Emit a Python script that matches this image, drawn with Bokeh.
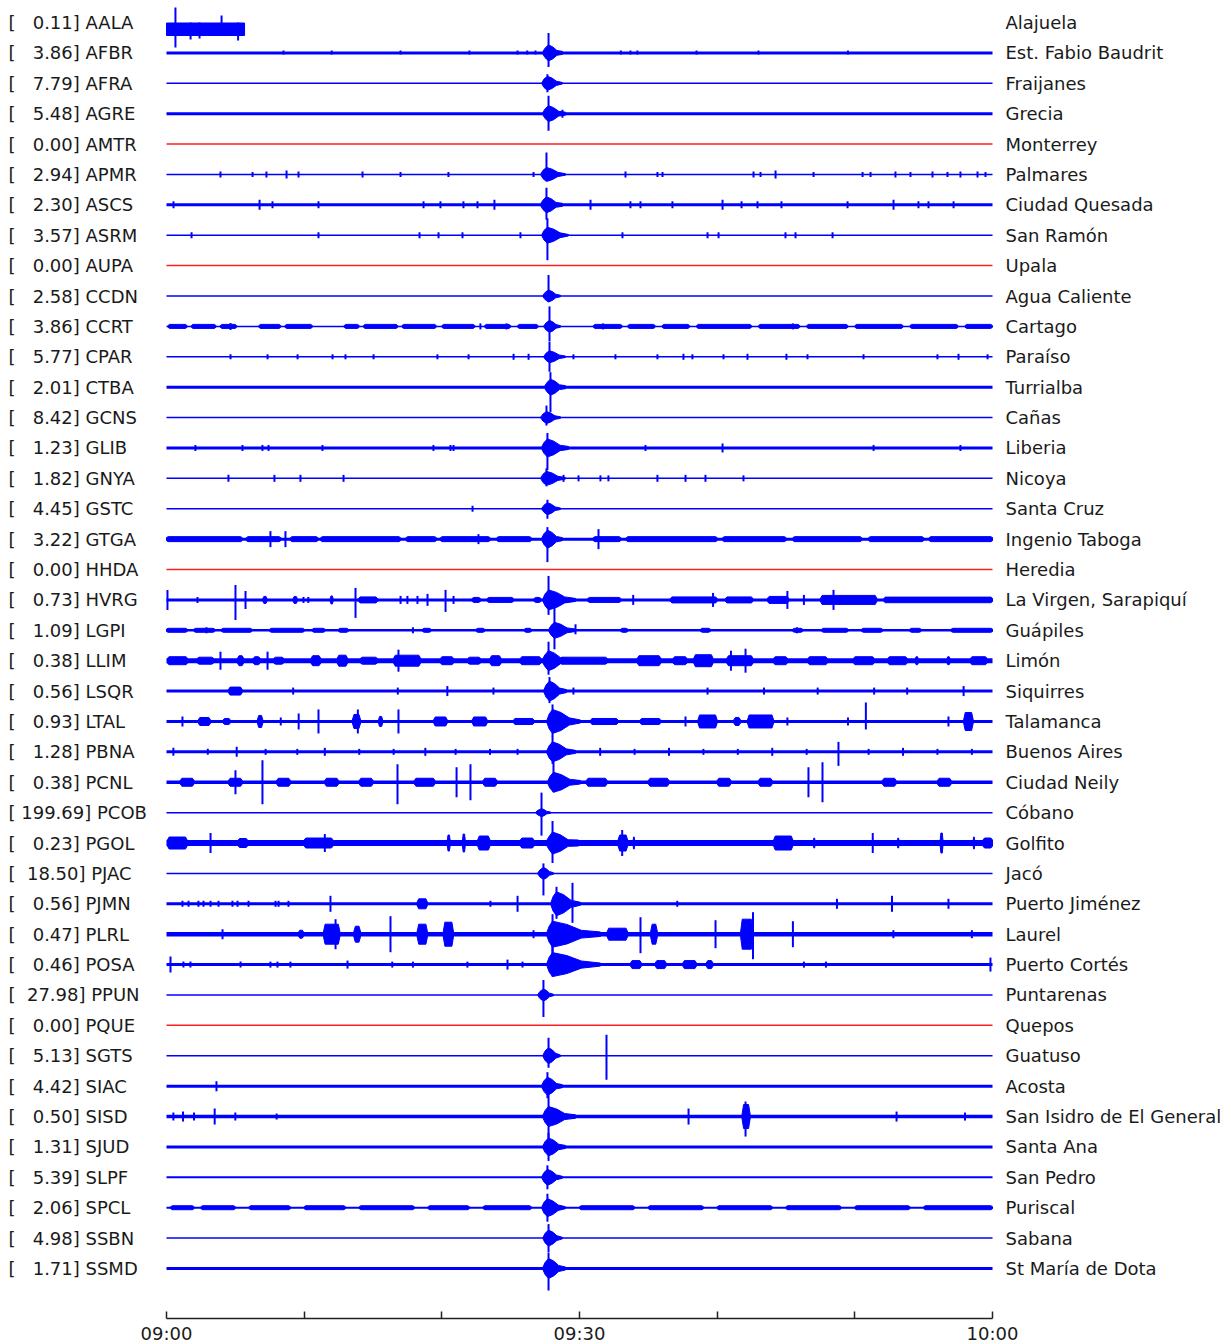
from bokeh.plotting import figure
from bokeh.models import Range1d, FixedTicker, ColumnDataSource
from bokeh.embed import file_html
from bokeh.resources import INLINE
from bokeh.core.properties import value

# ---------------- data ----------------
codes = ["AALA", "AFBR", "AFRA", "AGRE", "AMTR", "APMR", "ASCS", "ASRM", "AUPA", "CCDN",
         "CCRT", "CPAR", "CTBA", "GCNS", "GLIB", "GNYA", "GSTC", "GTGA", "HHDA", "HVRG",
         "LGPI", "LLIM", "LSQR", "LTAL", "PBNA", "PCNL", "PCOB", "PGOL", "PJAC", "PJMN",
         "PLRL", "POSA", "PPUN", "PQUE", "SGTS", "SIAC", "SISD", "SJUD", "SLPF", "SPCL",
         "SSBN", "SSMD"]
scales = [0.11, 3.86, 7.79, 5.48, 0.00, 2.94, 2.30, 3.57, 0.00, 2.58,
          3.86, 5.77, 2.01, 8.42, 1.23, 1.82, 4.45, 3.22, 0.00, 0.73,
          1.09, 0.38, 0.56, 0.93, 1.28, 0.38, 199.69, 0.23, 18.50, 0.56,
          0.47, 0.46, 27.98, 0.00, 5.13, 4.42, 0.50, 1.31, 5.39, 2.06,
          4.98, 1.71]
names = ["Alajuela", "Est. Fabio Baudrit", "Fraijanes", "Grecia", "Monterrey", "Palmares",
         "Ciudad Quesada", "San Ramón", "Upala", "Agua Caliente", "Cartago", "Paraíso",
         "Turrialba", "Cañas", "Liberia", "Nicoya", "Santa Cruz", "Ingenio Taboga", "Heredia",
         "La Virgen, Sarapiquí", "Guápiles", "Limón", "Siquirres", "Talamanca", "Buenos Aires",
         "Ciudad Neily", "Cóbano", "Golfito", "Jacó", "Puerto Jiménez", "Laurel",
         "Puerto Cortés", "Puntarenas", "Quepos", "Guatuso", "Acosta",
         "San Isidro de El General", "Santa Ana", "San Pedro", "Puriscal", "Sabana",
         "St María de Dota"]

# background noise level of each trace (px-equivalent amplitude)
noise = [0, 3, 1.5, 3, 1.5, 1.5, 3, 1.5, 1.5, 1.5,
         1.5, 1.5, 3, 1.5, 3, 1.5, 1.5, 3, 1.5, 3,
         2.5, 5, 3, 3, 3, 3.5, 1.5, 6, 1.5, 3,
         4.5, 3, 1.5, 1.5, 1.5, 3, 3.5, 3, 2, 2,
         1.5, 3]

# data span of each trace in minutes after 09:00
trace_span = {"AALA": (0.0, 5.67)}

# main event: arrival (min), peak up, peak down, body amplitude, end of coda (min)
ev_time = [None, 27.75, 27.67, 27.75, None, 27.60, 27.60, 27.67, None, 27.75,
           27.82, 27.82, 27.89, 27.60, 27.67, 27.60, 27.67, 27.67, None, 27.75,
           28.18, 27.75, 27.82, 28.04, 28.04, 28.11, 27.24, 28.04, 27.38, 28.33,
           28.04, 28.04, 27.38, None, 27.75, 27.67, 27.75, 27.75, 27.67, 27.67,
           27.75, 27.75]
ev_up = [0, 20, 9, 18, 0, 22, 17, 17, 0, 21,
         20, 15, 15, 12, 15, 10, 9, 12, 0, 24,
         23, 19, 14, 17, 16, 22, 20, 22, 10, 17,
         20, 20, 15, 0, 18, 14, 26, 14, 12, 14,
         14, 16]
ev_down = [0, 14, 9, 17, 0, 6, 15, 25, 0, 6,
           15, 15, 25, 8, 22, 8, 10, 23, 0, 15,
           19, 14, 12, 15, 12, 10, 23, 20, 22, 15,
           20, 12, 22, 0, 12, 12, 22, 14, 12, 14,
           14, 22]
ev_body = [0, 8, 7, 8, 0, 7, 8, 8, 0, 6,
           6, 6, 8, 6, 9, 7, 6, 9, 0, 10,
           8, 10, 10, 12, 10, 10, 4, 11, 6, 12,
           13, 12, 6, 0, 8, 9, 10, 9, 8, 9,
           8, 10]
ev_end = [None, 28.76, 28.76, 28.98, None, 28.98, 28.76, 29.20, None, 28.62,
          28.62, 28.98, 28.98, 28.62, 29.20, 28.98, 28.62, 28.76, None, 29.71,
          29.71, 29.20, 29.05, 30.07, 29.71, 30.07, 27.89, 29.93, 28.11, 30.07,
          31.52, 31.52, 28.11, None, 28.62, 28.76, 29.71, 28.98, 28.76, 28.98,
          28.76, 28.98]

# isolated spikes: (minute, up, down)
spikes = {
    "AALA": [(0.65, 15, 25), (1.75, 0, 17), (2.4, 0, 16), (4.0, 7, 13), (5.2, 0, 18)],
    "AFBR": [(25.5, 2.5, 1.5), (26.2, 2.5, 1.5), (26.8, 2.5, 1.5), (33.0, 2.5, 1.5),
             (33.7, 2.5, 1.5), (34.2, 2.5, 1.5), (8.5, 2.5, 1.5), (12.0, 2.5, 1.5),
             (17.0, 2.5, 1.5), (22.0, 2.5, 1.5), (38.5, 2.5, 1.5), (43.0, 2.5, 1.5),
             (49.5, 2.5, 1.5)],
    "AGRE": [(28.76, 4, 4)],
    "APMR": [(3.92, 3, 3), (6.25, 2.5, 2.5), (7.26, 3, 3), (8.72, 4, 4), (9.59, 3, 3),
             (14.24, 3, 3), (17.0, 2.5, 2.5), (20.48, 2.5, 2.5), (26.66, 2.5, 2.5),
             (33.34, 3, 3), (35.66, 2.5, 2.5), (36.03, 2.5, 2.5), (42.64, 3, 3),
             (43.15, 2.5, 2.5), (44.24, 4, 4), (47.0, 2.5, 2.5), (50.56, 2.5, 2.5),
             (51.14, 2.5, 2.5), (52.95, 3, 3), (54.04, 2.5, 2.5), (55.64, 3, 3),
             (56.73, 2.5, 2.5), (57.67, 3, 3), (58.91, 3, 3), (59.49, 2.5, 2.5)],
    "ASCS": [(0.51, 3.5, 3.5), (6.76, 5, 5), (7.7, 3.5, 3.5), (11.04, 3.5, 3.5),
             (18.67, 3.5, 3.5), (19.9, 3.5, 3.5), (21.57, 3.5, 3.5), (22.59, 3.5, 3.5),
             (23.82, 5, 5), (30.8, 5, 5), (33.7, 3.5, 3.5), (34.43, 3.5, 3.5),
             (36.75, 3.5, 3.5), (40.39, 5, 5), (41.77, 3.5, 3.5), (42.93, 3.5, 3.5),
             (44.67, 3.5, 3.5), (49.47, 3.5, 3.5), (52.81, 5, 5), (54.62, 3.5, 3.5),
             (55.35, 3.5, 3.5), (57.17, 3.5, 3.5)],
    "ASRM": [(1.82, 3, 3), (11.04, 3, 3), (18.38, 3, 3), (19.76, 3, 3), (21.5, 3, 3),
             (25.71, 3, 3), (33.12, 3, 3), (39.3, 3, 3), (40.1, 3, 3), (44.96, 3, 3),
             (45.69, 3, 3), (48.38, 3, 3)],
    "CCRT": [(4.65, 3.5, 3.5), (22.8, 3, 3), (24.7, 3, 3), (31.7, 3, 3), (45.5, 3, 3)],
    "CPAR": [(4.65, 2.5, 2.5), (7.34, 2.5, 2.5), (9.52, 2.5, 2.5), (12.06, 2.5, 2.5),
             (13.0, 2.5, 2.5), (15.04, 2.5, 2.5), (19.68, 2.5, 2.5), (21.94, 2.5, 2.5),
             (25.21, 3, 3), (26.3, 3, 3), (29.56, 2.5, 2.5), (32.61, 2.5, 2.5),
             (35.66, 2.5, 2.5), (37.55, 3, 3), (38.2, 2.5, 2.5), (40.46, 2.5, 2.5),
             (42.2, 3, 3), (45.03, 3, 3), (46.56, 2.5, 2.5), (50.63, 2.5, 2.5),
             (56.0, 2.5, 2.5), (57.53, 3, 3), (59.64, 2.5, 2.5)],
    "GLIB": [(2.1, 3, 3), (5.52, 3, 3), (6.97, 3, 3), (7.41, 3, 3), (11.33, 3, 3),
             (19.39, 3, 3), (20.63, 3, 3), (20.85, 3, 3), (34.79, 3, 3), (40.39, 4.5, 4.5),
             (51.36, 3, 3), (57.67, 3, 3)],
    "GNYA": [(4.5, 3.5, 3.5), (7.84, 3.5, 3.5), (9.73, 3.5, 3.5), (12.86, 3.5, 3.5),
             (28.84, 3.5, 3.5), (29.93, 3, 3), (31.52, 3, 3), (32.1, 3, 3),
             (35.66, 3.5, 3.5), (37.7, 3.5, 3.5), (39.15, 3.5, 3.5), (41.91, 3, 3)],
    "GSTC": [(22.23, 3, 3)],
    "GTGA": [(7.55, 8, 8), (8.64, 8, 8), (22.66, 5, 5), (31.38, 10, 10)],
    "HVRG": [(0.07, 10, 10), (2.25, 3, 3), (5.01, 15, 20), (5.74, 9, 9), (9.95, 3, 3),
             (10.3, 3, 3), (13.73, 12, 18), (17.0, 4, 4), (17.5, 4, 4), (18.23, 4, 4),
             (18.96, 6, 6), (20.27, 10, 12), (20.85, 4, 4), (33.9, 5, 5), (39.7, 7, 7),
             (45.1, 9, 9), (46.3, 5, 5), (48.45, 10, 10)],
    "LGPI": [(2.9, 3, 3), (17.9, 3, 3), (29.71, 6, 4), (45.8, 3, 3)],
    "LLIM": [(3.92, 9, 9), (7.34, 9, 9), (16.85, 11, 11), (42.06, 12, 12), (41.0, 10, 10)],
    "LSQR": [(9.2, 3.5, 3.5), (16.8, 3.5, 3.5), (20.4, 5, 5), (23.75, 3.5, 3.5),
             (29.56, 3.5, 3.5), (39.3, 3.5, 3.5), (43.4, 3.5, 3.5), (47.3, 3.5, 3.5),
             (51.4, 3.5, 3.5), (53.8, 3.5, 3.5), (57.9, 5, 5)],
    "LTAL": [(1.16, 5, 5), (8.3, 4, 4), (9.6, 8, 8), (11.04, 12, 12), (13.9, 12, 12),
             (16.85, 12, 12), (37.7, 5, 5), (45.1, 4, 4), (49.5, 4, 4), (50.8, 19, 8),
             (56.8, 5, 5)],
    "PBNA": [(0.5, 4, 4), (3.0, 3, 3), (5.1, 5, 5), (7.2, 3, 3), (9.5, 3, 3), (11.5, 4, 4),
             (14.0, 3, 3), (16.5, 3, 3), (18.8, 4, 4), (21.0, 3, 3), (23.5, 3, 3),
             (25.5, 3, 3), (31.5, 4, 4), (34.0, 3, 3), (36.5, 4, 4), (39.0, 3, 3),
             (41.5, 3, 3), (44.0, 4, 4), (46.5, 3, 3), (48.81, 10, 14), (51.0, 3, 3),
             (53.5, 4, 4), (56.0, 3, 3), (58.5, 3, 3)],
    "PCNL": [(5.01, 12, 12), (6.97, 22, 22), (16.78, 18, 22), (21.07, 15, 15),
             (22.08, 18, 18), (46.63, 15, 15), (47.65, 20, 20)],
    "PGOL": [(3.2, 10, 10), (11.5, 9, 9), (51.3, 10, 10), (33.1, 13, 13)],
    "PJMN": [(1.16, 3, 3), (1.6, 3, 3), (2.32, 3, 3), (2.69, 3, 3), (3.2, 3, 3),
             (3.78, 3, 3), (4.79, 3, 3), (5.16, 3, 3), (5.96, 3, 3), (7.92, 3, 3),
             (8.14, 3, 3), (8.86, 3, 3), (11.91, 8, 8), (23.53, 3, 3), (25.5, 8, 8),
             (29.49, 21, 19), (37.1, 3, 3), (48.7, 5, 5), (52.7, 8, 8), (56.8, 5, 5)],
    "PLRL": [(4.07, 5, 5), (12.28, 15, 15), (16.27, 18, 18), (26.66, 4, 4),
             (34.43, 17, 19), (39.88, 14, 14), (42.6, 22, 25), (45.5, 13, 13),
             (52.8, 4, 4), (58.5, 4, 4)],
    "POSA": [(0.29, 8, 8), (1.23, 3, 3), (1.74, 3, 3), (5.38, 3, 3), (7.55, 3, 3),
             (8.06, 3, 3), (9.0, 3, 3), (13.15, 4, 4), (16.4, 3, 3), (17.9, 3, 3),
             (21.86, 3, 3), (24.77, 5, 5), (25.86, 3, 3), (46.3, 3, 3), (47.9, 3, 3),
             (59.85, 7, 7)],
    "SGTS": [(31.96, 21, 24)],
    "SIAC": [(3.63, 5, 5)],
    "SISD": [(0.5, 4, 4), (1.2, 5, 5), (2.0, 4, 4), (3.5, 8, 8), (5.0, 4, 4), (8.0, 3, 3),
             (37.92, 8, 8), (42.06, 15, 20), (53.03, 5, 5), (58.0, 4, 4)],
}

# bursts of noise: (start minute, end minute, amplitude)
bursts = {
    "CCRT": [(0.1, 1.5, 2), (1.8, 3.6, 2), (3.9, 5.1, 2), (6.7, 8.3, 2), (8.6, 10.6, 2),
             (12.9, 14.0, 2), (14.3, 16.8, 2), (17.1, 19.6, 2), (20.0, 22.4, 2),
             (23.1, 25.0, 2), (25.5, 27.0, 2), (31.0, 33.1, 2), (33.5, 35.5, 2),
             (36.0, 38.0, 2), (38.5, 42.5, 2), (43.0, 46.0, 2), (46.5, 49.5, 2),
             (50.0, 53.5, 2), (54.0, 57.5, 2), (58.0, 60.0, 2)],
    "GTGA": [(0.0, 5.5, 2.5), (5.8, 8.3, 2.5), (9.0, 11.0, 2.5), (11.2, 17.0, 2.5),
             (17.4, 19.6, 2.5), (19.9, 23.5, 2.5), (24.0, 26.5, 2.5), (31.0, 33.0, 2.5),
             (33.4, 40.0, 2.5), (40.4, 45.0, 2.5), (45.5, 50.5, 2.5), (51.0, 55.0, 2.5),
             (55.4, 60.0, 2.5)],
    "HVRG": [(7.0, 7.3, 3.5), (9.2, 9.5, 3.5), (11.9, 12.1, 4), (13.95, 15.33, 3),
             (22.2, 22.8, 2.5), (23.3, 25.2, 2.5), (26.7, 27.2, 2.5), (30.6, 33.0, 2.5),
             (36.6, 40.0, 3), (40.6, 42.6, 3), (43.65, 45.2, 3.5), (47.5, 51.6, 4.5),
             (52.1, 60.0, 2.8)],
    "LGPI": [(0.0, 1.5, 2), (2.0, 3.5, 2), (4.0, 6.2, 2), (7.5, 10.0, 2), (10.6, 11.5, 2),
             (12.5, 13.2, 2), (18.6, 19.2, 2), (22.5, 23.1, 2), (26.0, 26.5, 2),
             (33.0, 33.5, 2), (38.8, 39.5, 2), (45.5, 46.2, 2), (47.6, 49.5, 2),
             (50.5, 52.0, 2), (54.0, 54.8, 2), (57.0, 60.0, 2)],
    "LLIM": [(0.07, 1.53, 4), (2.25, 3.41, 3.5), (5.16, 5.6, 5), (6.3, 6.8, 4), (7.8, 8.5, 3.5),
             (10.5, 11.2, 5), (12.4, 13.15, 5.5), (14.1, 15.3, 3.5), (16.5, 18.45, 5.5),
             (19.9, 20.85, 4), (21.9, 22.8, 3.5), (23.5, 24.3, 5), (25.7, 27.2, 4),
             (28.6, 32.0, 3.5), (34.2, 35.9, 5), (36.8, 37.8, 4), (38.3, 39.7, 6),
             (40.7, 42.6, 5), (44.1, 45.1, 4), (46.6, 48.0, 4), (49.9, 51.4, 4),
             (52.4, 53.8, 4), (54.4, 54.6, 4), (56.7, 56.9, 4), (58.4, 59.6, 4)],
    "LSQR": [(4.5, 5.5, 4)],
    "LTAL": [(2.3, 3.2, 4), (4.1, 4.65, 3), (6.6, 7.0, 6), (13.5, 14.1, 7), (15.4, 15.7, 5),
             (19.4, 20.4, 4.5), (22.2, 23.3, 4.5), (25.2, 26.7, 3), (30.8, 32.8, 3),
             (34.4, 35.9, 3), (38.6, 40.0, 6.5), (41.2, 41.7, 4), (42.2, 44.1, 6.5),
             (57.9, 58.6, 9)],
    "PCNL": [(1.0, 2.0, 4), (4.5, 5.5, 4), (8.0, 9.0, 4), (11.5, 12.5, 4), (14.0, 15.0, 4),
             (18.0, 19.5, 4), (23.0, 24.0, 4), (30.5, 32.0, 4), (35.0, 36.5, 4),
             (40.0, 41.0, 4), (43.0, 44.0, 4), (52.0, 53.0, 4), (56.0, 57.0, 4)],
    "PGOL": [(0.07, 1.5, 6), (5.2, 5.9, 4.5), (10.0, 12.1, 5), (20.4, 20.6, 8), (21.5, 21.7, 9),
             (22.6, 23.5, 7), (25.7, 26.7, 5), (32.8, 33.5, 8), (33.9, 34.0, 6),
             (44.1, 45.5, 7), (47.0, 47.1, 5), (53.1, 53.2, 5), (56.2, 56.4, 10),
             (58.6, 58.7, 6), (59.3, 60.0, 5)],
    "PJMN": [(18.2, 18.96, 5)],
    "PLRL": [(9.6, 9.95, 4), (11.4, 12.6, 10), (13.6, 14.1, 8), (18.2, 18.96, 10),
             (20.1, 20.85, 12), (32.0, 33.5, 6), (35.16, 35.66, 10), (41.7, 42.6, 15)],
    "POSA": [(33.7, 34.5, 4), (35.5, 36.3, 4), (37.5, 38.5, 4), (39.2, 39.7, 4)],
    "SISD": [(41.8, 42.4, 12)],
    "SPCL": [(0.3, 2.0, 2), (2.5, 5.0, 2), (6.0, 9.0, 2), (10.0, 13.0, 2), (14.0, 18.0, 2),
             (19.0, 22.0, 2), (23.0, 26.5, 2), (30.0, 34.0, 2), (35.0, 39.0, 2),
             (40.0, 44.0, 2), (45.0, 49.0, 2), (50.0, 54.0, 2), (55.0, 60.0, 2)],
}
# block of strong noise on the short AALA record: (start, end, top, bottom) px about the row
aala_block = (0.0, 5.67, 0.5, 13)

tick_minutes = [0, 30, 60]
tick_labels = ["09:00", "09:30", "10:00"]
minor_minutes = [10, 20, 40, 50]

# ---------------- layout / style ----------------
ROW = 30.39            # px between traces
PX_PER_MIN = 13.767
FRAME_W = 1227
X0 = -166 / PX_PER_MIN
X1 = X0 + FRAME_W / PX_PER_MIN
FRAME_H = 1318
Y_TOP = 22
Y_BOT = Y_TOP - FRAME_H
BLUE = "#0000ff"
RED = "#ff2020"
FONT = "DejaVu Sans"
FS = "18px"
LEFT_X = 8 / PX_PER_MIN + X0
LABEL_X = (1005 - 166) / PX_PER_MIN

p = figure(frame_width=FRAME_W, frame_height=FRAME_H,
           x_range=Range1d(X0, X1), y_range=Range1d(Y_BOT, Y_TOP),
           output_backend="svg", toolbar_location=None, y_axis_location=None,
           min_border=0, outline_line_color=None)
p.grid.visible = False

n = len(codes)
ys = [-ROW * i for i in range(n)]
colors = [RED if v == 0 else BLUE for v in scales]

# baselines
bx0, bx1, by, bw, bc = [], [], [], [], []
for i, c in enumerate(codes):
    if c == "AALA":
        continue
    s0, s1 = trace_span.get(c, (0.0, 60.0))
    bx0.append(s0); bx1.append(s1); by.append(ys[i])
    bw.append(max(noise[i], 1.2)); bc.append(colors[i])
p.segment(x0="x0", y0="y", x1="x1", y1="y", line_width="w", line_color="c",
          source=ColumnDataSource(dict(x0=bx0, x1=bx1, y=by, w=bw, c=bc)))

# AALA block
i_a = codes.index("AALA")
p.quad(left=[aala_block[0]], right=[aala_block[1]], top=[ys[i_a] - aala_block[2]],
       bottom=[ys[i_a] - aala_block[3]], fill_color=BLUE, line_color=BLUE, line_width=1)

# bursts as tapered patches
bxs, bys = [], []
for c, lst in bursts.items():
    i = codes.index(c)
    y = ys[i]
    h = max(noise[i], 1.2) / 2
    for (t0, t1, a) in lst:
        w = t1 - t0
        e = min(0.12, w * 0.25)
        tx = [t0, t0 + e, t1 - e, t1]
        ty = [h, a, a, h]
        bxs.append(tx + tx[::-1])
        bys.append([y + v for v in ty] + [y - v for v in ty[::-1]])
p.patches(xs=bxs, ys=bys, fill_color=BLUE, line_color=BLUE, line_width=1)

# main event envelopes
pxs, pys = [], []
for i in range(n):
    t0 = ev_time[i]
    if t0 is None:
        continue
    te = ev_end[i]
    b = ev_body[i]
    h = max(noise[i], 1.2) / 2
    d = te - t0
    y = ys[i]
    top_x = [t0 - 0.4, t0 - 0.25, t0, t0 + 0.3 * d, t0 + 0.6 * d, te]
    top_y = [h, 0.6 * b, b, 0.75 * b, 0.3 * b, h]
    xs = top_x + top_x[::-1]
    yy = [y + v for v in top_y] + [y - v for v in top_y[::-1]]
    pxs.append(xs); pys.append(yy)
p.patches(xs=pxs, ys=pys, fill_color=BLUE, line_color=BLUE, line_width=1)

# spikes (main arrivals and isolated ones)
sx, sy0, sy1 = [], [], []
for i in range(n):
    if ev_time[i] is not None:
        sx.append(ev_time[i]); sy0.append(ys[i] + ev_up[i]); sy1.append(ys[i] - ev_down[i])
for c, lst in spikes.items():
    i = codes.index(c)
    for (t, up, dn) in lst:
        sx.append(t); sy0.append(ys[i] + up); sy1.append(ys[i] - dn)
p.segment(x0=sx, y0=sy0, x1=sx, y1=sy1, line_color=BLUE, line_width=2)

# labels
left_text = [("[%7.2f] %s" % (v, c)).replace(" ", "\u00a0") for v, c in zip(scales, codes)]
p.text(x=[LEFT_X] * n, y=ys, text=left_text, text_font=value(FONT), text_font_size=FS,
       text_baseline="middle", text_align="left", text_color="#1a1a1a")
p.text(x=[LABEL_X] * n, y=ys, text=names, text_font=value(FONT), text_font_size=FS,
       text_baseline="middle", text_align="left", text_color="#1a1a1a")

# time axis
ax = p.xaxis[0]
ax.ticker = FixedTicker(ticks=tick_minutes, minor_ticks=minor_minutes)
ax.major_label_overrides = {k: v for k, v in zip(tick_minutes, tick_labels)}
ax.bounds = (0, 60)
ax.major_tick_in = 7
ax.major_tick_out = 0
ax.minor_tick_in = 7
ax.minor_tick_out = 0
ax.axis_line_width = 1.5
ax.axis_line_color = "#222222"
ax.major_tick_line_color = "#222222"
ax.minor_tick_line_color = "#222222"
ax.major_tick_line_width = 1.5
ax.minor_tick_line_width = 1.5
ax.major_label_text_font = FONT
ax.major_label_text_font_size = FS
ax.major_label_text_color = "#1a1a1a"
ax.major_label_standoff = 4

open("out.html", "w").write(file_html(p, INLINE))
